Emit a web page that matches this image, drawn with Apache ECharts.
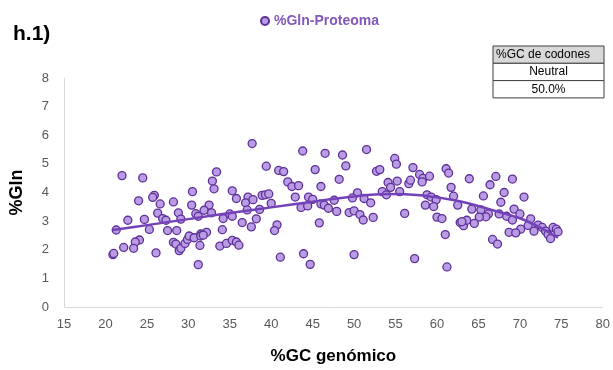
<!DOCTYPE html>
<html>
<head>
<meta charset="utf-8">
<script src="https://cdn.jsdelivr.net/npm/echarts@6/dist/echarts.min.js"></script>
<style>
  html, body { margin: 0; padding: 0; background: #ffffff; }
  #chart { width: 613px; height: 370px; }
</style>
</head>
<body>
<div id="chart"></div>
<script>
// %Gln of the proteome against genomic %GC, one point per genome
const genomicGC = [
  22.0,24.5,33.4,32.9,33.1,25.9,25.7,24.0,26.6,28.2,30.5,30.4,32.5,26.3,28.8,30.9,31.9,32.8,26.9,27.3,
  29.1,31.2,24.7,22.7,21.3,25.3,27.5,28.6,31.5,32.2,34.1,34.2,24.1,23.6,23.4,22.2,20.9,21.0,26.1,28.2,
  28.5,28.9,29.1,29.6,29.9,30.1,30.7,31.5,31.8,31.4,31.2,33.8,34.6,
  37.7,39.4,40.9,41.5,43.8,46.5,48.6,49.0,45.3,48.2,42.0,42.5,43.3,46.0,35.3,35.8,37.2,37.8,38.9,39.3,
  39.7,36.9,40.0,42.9,44.5,45.0,46.0,46.4,46.9,47.6,47.9,49.4,43.6,44.4,37.1,38.6,38.2,36.5,37.6,40.7,
  40.4,45.8,35.3,35.8,36.1,41.1,43.9,44.7,35.0,35.3,
  51.5,54.9,55.1,52.7,53.1,57.1,57.9,58.3,58.2,59.1,61.1,61.4,54.1,54.4,55.2,56.6,56.8,53.4,55.5,53.9,
  50.4,49.8,51.2,52.0,61.7,62.0,58.8,59.3,59.9,58.6,59.6,62.5,63.9,50.0,50.7,51.1,52.3,56.1,60.0,60.6,
  62.8,63.2,63.6,61.0,50.0,57.3,61.2,
  67.1,69.1,66.4,68.1,65.6,70.5,67.7,64.2,65.3,69.3,66.2,65.9,65.1,67.5,68.4,70.0,69.1,71.3,63.0,64.5,
  71.0,72.2,72.7,74.0,74.4,74.6,70.1,68.7,69.5,71.7,73.1,73.4,73.7,66.7,67.3
];
const glnPercent = [
  4.59,4.51,4.72,4.40,4.13,3.90,3.83,3.71,3.60,3.67,4.03,3.56,3.56,3.28,3.29,3.26,3.38,3.29,3.09,3.03,
  3.07,3.17,3.06,3.03,2.69,2.71,2.67,2.67,2.55,2.61,2.70,3.09,2.34,2.27,2.05,2.08,1.83,1.87,1.89,2.26,
  2.20,1.97,2.05,2.22,2.36,2.48,2.42,2.48,2.51,2.15,1.48,2.13,2.22,
  5.71,4.92,4.77,4.73,5.45,5.37,5.31,4.93,4.80,4.46,4.37,4.21,4.24,4.21,4.06,3.79,3.84,3.75,3.90,3.92,
  3.95,3.64,3.62,3.84,3.84,3.76,3.60,3.56,3.45,3.73,3.34,3.30,3.48,3.53,3.39,3.41,3.08,2.95,2.80,2.87,
  2.67,2.94,2.33,2.27,2.16,1.74,1.86,1.49,3.25,3.17,
  5.50,5.19,4.99,4.74,4.80,4.87,4.63,4.49,4.37,4.57,4.83,4.68,4.35,4.18,4.40,4.31,4.43,4.03,4.03,3.92,
  3.99,3.81,3.79,3.64,4.18,3.87,3.92,3.84,3.75,3.56,3.51,3.56,4.48,3.36,3.23,3.04,3.13,3.27,3.14,3.09,
  2.95,2.84,3.03,2.53,1.83,1.69,1.40,
  4.56,4.47,4.27,4.00,3.88,3.84,3.66,3.42,3.39,3.42,3.25,3.15,3.14,3.25,3.17,3.25,3.04,3.08,2.98,2.92,
  2.85,2.86,2.78,2.78,2.72,2.63,2.72,2.61,2.59,2.65,2.65,2.53,2.39,2.36,2.20
];

// Polynomial trend curve through the cloud
const trendGC  = [20.9, 25.0, 30.0, 35.0, 40.0, 45.0, 49.4, 54.0, 58.0, 62.6, 66.5, 70.6, 74.6];
const trendGln = [2.69, 2.86, 3.07, 3.28, 3.48, 3.68, 3.84, 3.95, 3.90, 3.70, 3.40, 3.03, 2.42];

// Axis ranges
const xRange = { min: 15, max: 80, step: 5 };
const yRange = { min: 0, max: 8, step: 1 };

// Side table
const tableRows = ['%GC de codones', 'Neutral', '50.0%'];

const seriesName = '%Gln-Proteoma';
const fontFamily = '"Liberation Sans", Arial, sans-serif';

const scatterData = genomicGC.map((x, i) => [x, glnPercent[i]]);
const trendData = trendGC.map((x, i) => [x, trendGln[i]]);

// Build the little bordered table as graphic elements
const tbl = { left: 493, top: 46, width: 111, rowH: 17.3 };
const tableGraphics = [];
tableRows.forEach((txt, i) => {
  tableGraphics.push({
    type: 'rect',
    shape: { x: tbl.left, y: tbl.top + i * tbl.rowH, width: tbl.width, height: tbl.rowH },
    style: { fill: i === 0 ? '#d9d9d9' : '#ffffff', stroke: '#3f3f3f', lineWidth: 1 },
    z: 10
  });
  tableGraphics.push({
    type: 'text',
    x: i === 0 ? tbl.left + 3 : tbl.left + tbl.width / 2,
    y: tbl.top + i * tbl.rowH + tbl.rowH / 2,
    style: {
      text: txt,
      fill: '#000000',
      font: '12px ' + fontFamily,
      textAlign: i === 0 ? 'left' : 'center',
      textVerticalAlign: 'middle'
    },
    z: 11
  });
});

const chart = echarts.init(document.getElementById('chart'), null, { renderer: 'canvas' });
chart.setOption({
  backgroundColor: '#ffffff',
  animation: false,
  textStyle: { fontFamily: fontFamily },
  title: {
    text: 'h.1)',
    left: 8,
    top: 19,
    textStyle: { fontSize: 21, fontWeight: 'bold', color: '#000000', fontFamily: fontFamily }
  },
  legend: {
    data: [seriesName],
    top: 9,
    left: 255,
    itemWidth: 8,
    itemHeight: 8,
    itemGap: 4,
    textStyle: { fontSize: 14, fontWeight: 'bold', color: '#8259b8', fontFamily: fontFamily }
  },
  grid: { left: 64, right: 8, top: 78, bottom: 54, containLabel: false },
  xAxis: {
    type: 'value',
    min: xRange.min,
    max: xRange.max,
    interval: xRange.step,
    name: '%GC genómico',
    nameLocation: 'middle',
    nameGap: 41,
    nameTextStyle: { fontSize: 17, fontWeight: 'bold', color: '#000000', fontFamily: fontFamily },
    axisLine: { show: true, lineStyle: { color: '#d9d9d9', width: 1 } },
    axisTick: { show: false },
    splitLine: { show: false },
    axisLabel: { color: '#595959', fontSize: 13, margin: 11, fontFamily: fontFamily }
  },
  yAxis: {
    type: 'value',
    min: yRange.min,
    max: yRange.max,
    interval: yRange.step,
    name: '%Gln',
    nameLocation: 'middle',
    nameGap: 38,
    nameRotate: 90,
    nameTextStyle: { fontSize: 18, fontWeight: 'bold', color: '#000000', fontFamily: fontFamily },
    axisLine: { show: true, lineStyle: { color: '#d9d9d9', width: 1 } },
    axisTick: { show: false },
    splitLine: { show: false },
    axisLabel: { color: '#595959', fontSize: 13, margin: 15, fontFamily: fontFamily }
  },
  series: [
    {
      name: seriesName,
      type: 'scatter',
      data: scatterData,
      symbol: 'circle',
      symbolSize: 8,
      itemStyle: { color: '#b99ce3', borderColor: '#5d2f98', borderWidth: 1.3, opacity: 1 },
      z: 2
    },
    {
      name: 'trend',
      type: 'line',
      data: trendData,
      smooth: 0.4,
      showSymbol: false,
      symbol: 'none',
      lineStyle: { color: '#7442b8', width: 2.5 },
      z: 3
    }
  ],
  graphic: tableGraphics
});
</script>
</body>
</html>
